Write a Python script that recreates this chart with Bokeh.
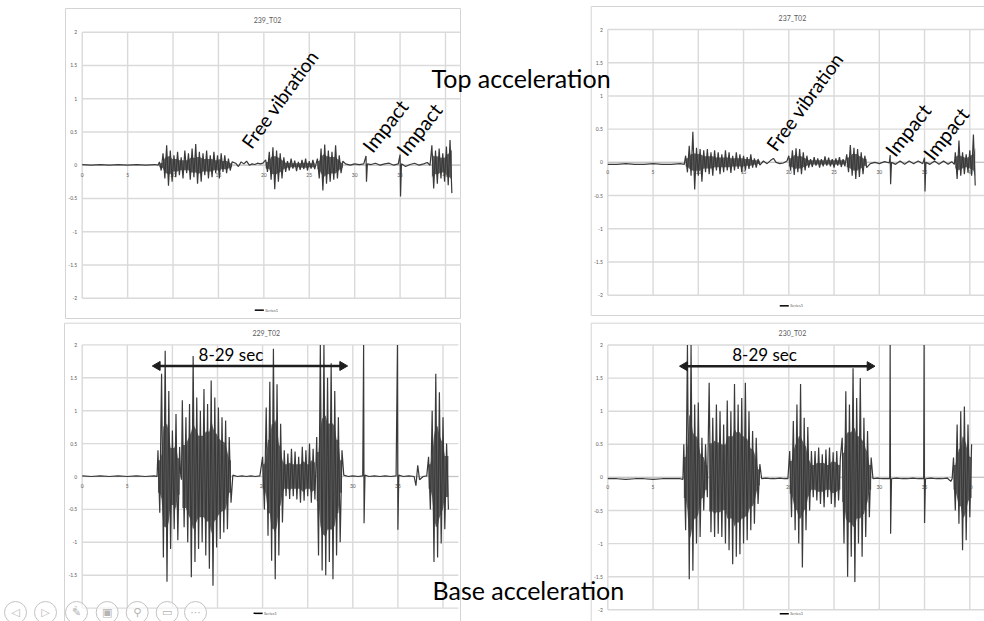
import numpy as np
from bokeh.plotting import figure
from bokeh.models import Range1d
from bokeh.core.properties import value
from bokeh.embed import file_html
from bokeh.resources import INLINE

# ---------------------------------------------------------------- data
# Axis ticks (seconds / g)
x_ticks = [0, 5, 10, 15, 20, 25, 30, 35, 40]
x_tick_labels = ["0", "5", "10", "15", "20", "25", "30", "35", "40"]
y_ticks = [-2, -1.5, -1, -0.5, 0, 0.5, 1, 1.5, 2]
y_tick_labels = ["-2", "-1.5", "-1", "-0.5", "0", "0.5", "1", "1.5", "2"]

# Successive extremes inside a burst are STEP seconds apart
STEP = 0.2

# ---- 239_T02 (top acceleration)
c239_quiet_t = [0, 1, 2, 3, 4, 5, 6, 7, 8, 8.35,
                16.9, 17.2, 17.5, 17.8, 18.1, 18.4, 18.7, 19.0, 19.3, 19.6, 19.9,
                29.0, 29.5, 30.0, 30.5, 31.0, 31.25, 31.3, 31.4, 31.8, 32.3, 32.8, 33.3,
                33.8, 34.3, 34.8, 35.0, 35.05, 35.15, 35.6, 36.1, 36.6, 37.1, 37.6, 38.0, 38.3]
c239_quiet_y = [0.01, 0.0, 0.01, 0.0, 0.01, 0.0, 0.01, 0.0, 0.01, 0.0,
                0.03, -0.02, 0.05, 0.02, 0.06, 0.0, 0.02, 0.01, 0.03, 0.02, 0.03,
                0.02, 0.0, 0.02, 0.01, 0.02, 0.14, -0.25, 0.02, 0.01, 0.03, 0.0, 0.02,
                0.03, 0.0, 0.02, 0.16, -0.47, 0.02, -0.02, 0.01, 0.03, 0.0, 0.02, 0.04, 0.0]
c239_b1 = [0.05, -0.08, 0.18, -0.2, 0.3, -0.31, 0.22, -0.25, 0.15, -0.18, 0.2, -0.15, 0.12, -0.2,
           0.22, -0.12, 0.18, -0.22, 0.25, -0.18, 0.32, -0.28, 0.2, -0.25, 0.18, -0.15, 0.22, -0.2,
           0.15, -0.18, 0.2, -0.12, 0.15, -0.2, 0.18, -0.1, 0.15, -0.12, 0.1, -0.08, 0.05]
c239_b2 = [0.08, -0.1, 0.2, -0.22, 0.27, -0.36, 0.22, -0.25, 0.18, -0.2, 0.12, -0.1,
           0.06, -0.08, 0.1, -0.05, 0.07, -0.09, 0.05, -0.07, 0.08, -0.06, 0.1, -0.08, 0.06, -0.05,
           0.08, -0.06]
c239_b3 = [0.1, -0.2, 0.25, -0.38, 0.31, -0.28, 0.22, -0.25, 0.2, -0.22, 0.3, -0.2, 0.15, -0.12, 0.06]
c239_b4 = [0.3, -0.35, 0.22, -0.28, 0.25, -0.2, 0.18, -0.25, 0.28, -0.3, 0.38, -0.42]
c239_bursts = [(8.5, c239_b1), (20.2, c239_b2), (25.9, c239_b3), (38.5, c239_b4)]

# ---- 237_T02 (top acceleration)
c237_quiet_t = [0, 1, 2, 3, 4, 5, 6, 7, 8, 8.45,
                17.2, 17.6, 18.0, 18.3, 18.6, 19.0, 19.4, 19.8,
                29.0, 29.5, 30.0, 30.6, 31.1, 31.2, 31.25, 31.35, 31.8, 32.3, 32.8, 33.3,
                33.8, 34.3, 34.8, 35.0, 35.05, 35.15, 35.6, 36.1, 36.6, 37.1, 37.6, 38.0, 38.3]
c237_quiet_y = [-0.03, -0.03, -0.02, -0.03, -0.03, -0.02, -0.03, -0.03, -0.02, -0.03,
                0.02, -0.02, 0.03, 0.06, 0.0, -0.02, -0.01, 0.02,
                -0.02, 0.0, -0.02, 0.01, -0.01, 0.11, -0.33, 0.0, -0.03, 0.02, -0.03, 0.02,
                -0.02, 0.02, -0.02, 0.07, -0.44, 0.0, -0.03, 0.02, -0.03, 0.02, -0.03, 0.01, -0.03]
c237_b1 = [0.1, -0.15, 0.25, -0.2, 0.46, -0.41, 0.22, -0.2, 0.2, -0.29, 0.18, -0.15, 0.2, -0.18,
           0.15, -0.2, 0.18, -0.12, 0.15, -0.18, 0.12, -0.15, 0.18, -0.12, 0.15, -0.16, 0.1, -0.12,
           0.15, -0.1, 0.12, -0.15, 0.1, -0.12, 0.08, -0.1, 0.12, -0.08, 0.06, -0.08, 0.05, -0.04]
c237_b2 = [0.1, -0.12, 0.18, -0.19, 0.21, -0.15, 0.2, -0.18, 0.15, -0.12, 0.1, -0.08,
           0.05, -0.07, 0.08, -0.05, 0.06, -0.08, 0.05, -0.06, 0.09, -0.05, 0.07, -0.06, 0.05, -0.08,
           0.06, -0.05, 0.08, -0.07, 0.05, -0.06]
c237_b3 = [0.12, -0.15, 0.26, -0.2, 0.22, -0.25, 0.2, -0.22, 0.15, -0.18, 0.1, -0.08]
c237_b4 = [0.15, -0.25, 0.33, -0.2, 0.15, -0.18, 0.12, -0.15, 0.18, -0.2, 0.42, -0.35]
c237_bursts = [(8.6, c237_b1), (20.0, c237_b2), (26.4, c237_b3), (38.4, c237_b4)]

# ---- 229_T02 (base acceleration)
c229_quiet_t = [0, 1, 2, 3, 4, 5, 6, 7, 8, 8.3,
                10.9, 11.0,
                16.7, 17.2, 17.7, 18.2, 18.7, 19.2, 19.7,
                29.0, 29.5, 30.0, 30.6, 31.1, 31.2, 31.25, 31.35, 31.8, 32.4, 33.0, 33.6,
                34.2, 34.8, 34.95, 35.0, 35.1, 35.6, 36.2, 36.8, 37.0, 37.2, 37.4, 37.8, 38.2]
c229_quiet_y = [0.01, 0.0, 0.01, 0.0, 0.01, 0.0, 0.01, 0.0, 0.01, 0.0,
                0.05, -0.05,
                0.02, 0.0, 0.01, 0.0, 0.01, 0.0, 0.01,
                0.02, 0.0, 0.01, 0.0, 0.01, 2.0, -0.71, 0.02, 0.0, 0.01, 0.0, 0.01,
                0.0, 0.01, 2.0, -0.81, 0.02, 0.0, 0.01, 0.0, -0.14, 0.17, -0.05, 0.0, 0.01]
c229_bA = [0.4, -0.55, 1.56, -1.23, 1.91, -1.6, 1.3, -1.1, 0.7, -0.8, 0.95, -0.97, 0.45]
c229_bB = [1.16, -0.77, 0.9, -1.0, 1.1, -1.53, 1.83, -1.3, 1.2, -1.1, 1.0, -1.0, 1.33, -1.2,
           1.1, -1.4, 1.46, -1.66, 1.2, -1.08, 1.05, -0.95, 0.9, -0.85, 0.85, -0.8, 0.6, -0.4]
c229_bC = [0.3, -0.5, 1.05, -0.9, 1.44, -1.28, 1.94, -1.56, 1.4, -1.2, 0.8, -0.7, 0.4,
           -0.3, 0.35, -0.34, 0.42, -0.3, 0.38, -0.35, 0.3, -0.4, 0.45, -0.37, 0.4, -0.3, 0.5,
           -0.4, 0.42, -0.35]
c229_bD = [0.6, -1.2, 2.0, -1.43, 2.0, -1.5, 1.5, -1.3, 1.72, -1.56, 1.3, -1.2, 0.9, -1.0, 0.4]
c229_bE = [0.3, -0.5, 1.0, -1.3, 1.56, -1.23, 1.28, -1.02, 0.9, -0.8, 0.5, -0.5]
c229_bursts = [(8.4, c229_bA), (11.1, c229_bB), (20.0, c229_bC), (26.0, c229_bD), (38.4, c229_bE)]

# ---- 230_T02 (base acceleration)
c230_quiet_t = [0, 1, 2, 3, 4, 5, 6, 7, 8, 8.3,
                17.0, 17.5, 18.0, 18.5, 19.0, 19.5, 19.9,
                29.3, 29.8, 30.3, 30.8, 31.15, 31.2, 31.25, 31.35, 31.9, 32.5, 33.1, 33.7,
                34.3, 34.9, 34.95, 35.0, 35.1, 35.7, 36.3, 36.9, 37.5, 37.9, 38.05]
c230_quiet_y = [-0.02, -0.02, -0.03, -0.02, -0.02, -0.03, -0.02, -0.02, -0.02, -0.03,
                -0.02, -0.01, -0.02, -0.02, -0.01, -0.02, -0.02,
                -0.02, -0.01, -0.02, -0.02, -0.02, 2.0, -0.85, -0.02, -0.01, -0.02, -0.02, -0.01,
                -0.02, -0.02, 2.0, -0.69, -0.02, -0.01, -0.02, -0.02, -0.01, -0.06, -0.02]
c230_bA = [0.5, -0.8, 2.0, -1.54, 2.0, -1.41, 1.1, -1.0, 1.13, -0.9, 0.6, -0.5, 0.5, -0.3]
c230_bB = [1.43, -0.83, 0.9, -0.9, 1.1, -0.85, 1.0, -0.9, 0.8, -1.0, 1.16, -1.1, 1.0, -1.31,
           1.41, -1.2, 1.1, -1.16, 1.2, -1.0, 1.43, -0.95, 1.0, -0.8, 0.7, -0.7, 0.6, -0.4, 0.2]
c230_bC = [0.4, -0.6, 0.85, -0.8, 1.1, -1.0, 1.41, -1.36, 0.9, -0.8, 0.76, -0.5, 0.4,
           -0.3, 0.4, -0.35, 0.45, -0.4, 0.35, -0.45, 0.42, -0.3, 0.45, -0.4, 0.38, -0.45, 0.4,
           -0.35, 0.3]
c230_bD = [0.6, -1.0, 1.3, -1.5, 1.1, -1.2, 1.65, -1.58, 1.2, -1.0, 1.5, -1.2, 0.9, -0.9, 0.7,
           -0.6, 0.3]
c230_bE = [0.3, -0.5, 0.8, -0.7, 1.0, -1.1, 1.07, -0.95, 0.8, -0.6, 0.5]
c230_bursts = [(8.4, c230_bA), (11.2, c230_bB), (20.1, c230_bC), (25.9, c230_bD), (38.2, c230_bE)]

# Annotation texts
top_notes = ["Free vibration", "Impact", "Impact"]
span_label = "8-29 sec"

# ---------------------------------------------------------------- layout / style
W, H = 984, 621
X_EDGE = 41.7          # right edge of the plot areas (s)
GRID = "#dadada"
TICK = "#5a5a5a"
SIG = "#3a3a3a"
CORE = "#626262"
CORE_SHARE = 0.62      # how much of the local peak level is drawn as the dense (solid) core
FONT = "Lato"

# (title, quiet_t, quiet_y, bursts, x-target px, y-target px (for -2, 2), frame px, legend y)
charts = [
    ("239_T02", c239_quiet_t, c239_quiet_y, c239_bursts, (81.7, 445.0), (297.7, 31.7), (65, 460, 8, 318), -2.18),
    ("237_T02", c237_quiet_t, c237_quiet_y, c237_bursts, (607.3, 969.3), (294.7, 29.0), (590.7, 995, 6, 315), -2.16),
    ("229_T02", c229_quiet_t, c229_quiet_y, c229_bursts, (81.7, 442.5), (607.6, 344.4), (64, 460, 322.7, 630), -2.08),
    ("230_T02", c230_quiet_t, c230_quiet_y, c230_bursts, (607.3, 969.3), (609.3, 344.5), (590.7, 995, 322.7, 630), -2.06),
]

p = figure(width=W, height=H, x_range=Range1d(0, W), y_range=Range1d(H, 0),
           x_axis_location=None, y_axis_location=None, toolbar_location=None,
           output_backend="svg", min_border=0, outline_line_color=None,
           background_fill_color="white", border_fill_color="white")
p.grid.visible = False


def build_series(qt, qy, bursts):
    ts = list(qt)
    ys = list(qy)
    for start, vals in bursts:
        for k, v in enumerate(vals):
            ts.append(start + k * STEP)
            ys.append(v)
    order = np.argsort(np.array(ts), kind="stable")
    return np.array(ts)[order], np.array(ys)[order]


def burst_core(start, vals):
    """Solid core of a dense burst: the smaller of neighbouring peak magnitudes."""
    mag = np.abs(np.array(vals, dtype=float))
    left = np.concatenate([[mag[0]], mag[:-1]])
    right = np.concatenate([mag[1:], [mag[-1]]])
    core = np.minimum(np.minimum(left, mag), right) * CORE_SHARE
    tb = start + STEP * np.arange(len(vals))
    return tb, core


subs = []
for title, qt, qy, bursts, xt, yt, fr, leg_y in charts:
    # chart frame
    p.quad(left=[fr[0]], right=[fr[1]], top=[fr[2]], bottom=[fr[3]],
           fill_color=None, line_color="#d4d4d4", line_width=1)
    sp = p.subplot(x_source=Range1d(0, 40), y_source=Range1d(-2, 2),
                   x_target=Range1d(xt[0], xt[1]), y_target=Range1d(yt[0], yt[1]))
    subs.append(sp)
    n = len(x_ticks)
    m = len(y_ticks)
    sp.segment(x0=x_ticks, y0=[-2] * n, x1=x_ticks, y1=[2] * n, line_color=GRID, line_width=1.4)
    sp.segment(x0=[0] * m, y0=y_ticks, x1=[X_EDGE] * m, y1=y_ticks, line_color=GRID, line_width=1.4)
    sp.segment(x0=[0], y0=[0], x1=[X_EDGE], y1=[0], line_color="#c4c4c4", line_width=1.2)
    sp.text(x=[-0.55] * m, y=y_ticks, text=y_tick_labels, text_align="right", text_baseline="middle",
            text_font=value(FONT), text_font_size="5px", text_color=TICK)
    sp.text(x=x_ticks, y=[-0.14] * n, text=x_tick_labels, text_align="center", text_baseline="middle",
            text_font=value(FONT), text_font_size="5px", text_color=TICK)
    sp.text(x=[20.4], y=[2.18], text=[title], text_align="center", text_baseline="middle",
            text_font=value(FONT), text_font_size="7px", text_color=TICK)
    # legend
    sp.segment(x0=[19.0], y0=[leg_y], x1=[20.0], y1=[leg_y], line_color="black", line_width=1.5)
    sp.text(x=[20.15], y=[leg_y], text=["Series1"], text_align="left", text_baseline="middle",
            text_font=value(FONT), text_font_size="4px", text_color=TICK)
    # dense burst cores
    for start, vals in bursts:
        tb, core = burst_core(start, vals)
        sp.varea(x=tb, y1=-core, y2=core, fill_color=CORE, fill_alpha=1.0)
    t, y = build_series(qt, qy, bursts)
    sp.line(t, y, line_color=SIG, line_width=1.2)

# annotations on the top charts
ANG_FV = np.deg2rad(54)
ANG_IM = np.deg2rad(52)
top_pos = [([18.0, 31.3, 35.05], [0.29, 0.24, 0.185]),
           ([17.98, 31.1, 35.3], [0.21, 0.135, 0.08])]
for sp, (tx, ty) in zip(subs[:2], top_pos):
    sp.text(x=tx[:1], y=ty[:1], text=top_notes[:1], angle=ANG_FV, text_align="left",
            text_baseline="alphabetic", text_font=value(FONT), text_font_size="19px", text_color="black")
    sp.text(x=tx[1:], y=ty[1:], text=top_notes[1:], angle=ANG_IM, text_align="left",
            text_baseline="alphabetic", text_font=value(FONT), text_font_size="20px", text_color="black")

# span arrows + labels on the base charts
arrows = [((7.8, 29.4, 1.68), (12.9, 1.85)), ((7.95, 29.5, 1.68), (13.75, 1.86))]
for sp, ((a0, a1, ay), (lx, ly)) in zip(subs[2:], arrows):
    sp.segment(x0=[a0 + 0.5], y0=[ay], x1=[a1 - 0.5], y1=[ay], line_color="#1e1e1e", line_width=2.5)
    sp.scatter(x=[a0 + 0.55, a1 - 0.55], y=[ay, ay], marker="triangle", size=9,
               angle=[np.pi / 2, -np.pi / 2], fill_color="#1e1e1e", line_color="#1e1e1e")
    sp.text(x=[lx], y=[ly], text=[span_label], text_align="left", text_baseline="alphabetic",
            text_font=value(FONT), text_font_size="17px", text_color="black")

# slide captions
p.text(x=[431], y=[77], text=["Top acceleration"], text_align="left", text_baseline="alphabetic",
       text_font=value(FONT), text_font_size="25px", text_color="black")
p.text(x=[432], y=[589], text=["Base acceleration"], text_align="left", text_baseline="alphabetic",
       text_font=value(FONT), text_font_size="25px", text_color="black")

# slide-show navigation icons (bottom left)
icon_x = [15, 45, 76, 106.7, 136.7, 166.7, 195]
icon_txt = ["◁", "▷", "✎", "▣", "⚲", "▭", "···"]
p.scatter(x=icon_x, y=[612] * 7, marker="circle", size=22, fill_color="white",
          fill_alpha=0.6, line_color="#c2c2c2", line_width=1)
p.text(x=icon_x, y=[612] * 7, text=icon_txt, text_align="center", text_baseline="middle",
       text_font=value("DejaVu Sans"), text_font_size="11px", text_color="#b5b5b5")

open("out.html", "w").write(file_html(p, INLINE))
